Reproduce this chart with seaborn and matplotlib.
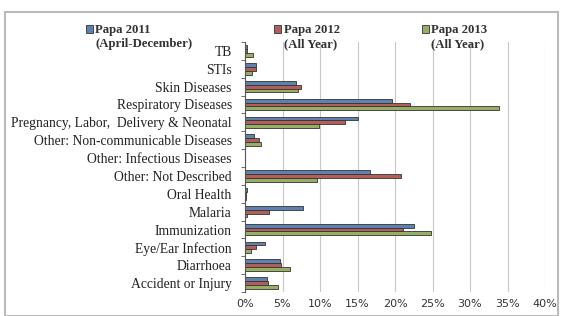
import numpy as np
import pandas as pd
import matplotlib
matplotlib.use('Agg')
import matplotlib.pyplot as plt
from matplotlib.patches import Rectangle
import seaborn as sns

# Categories (top to bottom) and share of visits per year (%)
categories = ['TB', 'STIs', 'Skin Diseases', 'Respiratory Diseases',
              'Pregnancy, Labor,  Delivery & Neonatal',
              'Other: Non-communicable Diseases', 'Other: Infectious Diseases',
              'Other: Not Described', 'Oral Health', 'Malaria', 'Immunization',
              'Eye/Ear Infection', 'Diarrhoea', 'Accident or Injury']
papa_2011 = [0.2, 1.5, 6.8, 19.6, 15.0, 1.2, 0.05, 16.6, 0.2, 7.7, 22.5, 2.6, 4.6, 2.9]
papa_2012 = [0.3, 1.5, 7.4, 22.0, 13.3, 1.8, 0.05, 20.8, 0.1, 3.2, 21.1, 1.4, 4.8, 3.0]
papa_2013 = [1.1, 0.9, 7.0, 33.8, 9.8, 2.1, 0.05, 9.6, 0.1, 0.2, 24.8, 0.8, 6.0, 4.4]
series_names = ['Papa 2011\n(April-December)', 'Papa 2012\n(All Year)', 'Papa 2013\n(All Year)']
colors = ['#4F81BD', '#C0504D', '#9BBB59']
x_ticks = [0, 5, 10, 15, 20, 25, 30, 35, 40]

df = pd.DataFrame({
    'Category': categories * 3,
    'Series': np.repeat(series_names, len(categories)),
    'Value': papa_2011 + papa_2012 + papa_2013,
})

sns.set_style('white')
plt.rcParams['font.family'] = ['Liberation Serif', 'DejaVu Serif']

fig = plt.figure(figsize=(5.65, 3.16), dpi=100)
ax = fig.add_axes([245 / 565, 1 - 292 / 316, 300 / 565, 250 / 316])

sns.barplot(data=df, y='Category', x='Value', hue='Series', order=categories,
            hue_order=series_names, palette=colors, orient='h', width=0.65,
            edgecolor='#333333', linewidth=0.6, ax=ax)

ax.set_xlim(0, 40)
ax.set_xticks(x_ticks)
ax.set_xticklabels([f'{t}%' for t in x_ticks], fontsize=8, family='DejaVu Sans',
                   color='#333333')
ax.set_yticks(range(len(categories)))
ax.set_yticklabels(categories, fontsize=9.8, color='#222222')
ax.set_yticks(np.arange(-0.5, len(categories)), minor=True)
ax.tick_params(axis='y', which='major', length=0, pad=9.5)
ax.tick_params(axis='y', which='minor', length=3, color='#555555', left=True)
ax.tick_params(axis='x', length=0, pad=5)
ax.set_xlabel('')
ax.set_ylabel('')
ax.grid(axis='x', color='#c8c8c8', linewidth=0.8)
ax.set_axisbelow(True)
for side in ['top', 'right', 'bottom']:
    ax.spines[side].set_visible(False)
ax.spines['left'].set_color('#555555')
ax.spines['left'].set_linewidth(0.8)

handles, labels = ax.get_legend_handles_labels()
ax.get_legend().remove()
leg = fig.legend(handles, labels, ncol=3, loc='upper left', bbox_to_anchor=(0.143, 0.94),
                 frameon=False, fontsize=9.2, handlelength=0.55, handleheight=0.55,
                 handletextpad=0.2, columnspacing=6.4, borderaxespad=0)
for txt in leg.get_texts():
    txt.set_fontweight('bold')
    txt.set_color('#333333')
    txt.set_multialignment('left')
# put the colour squares next to the first line of each label
for h in leg.legend_handles:
    h.set_y(h.get_y() + 5.5)

# picture frame around the chart
fig.patches.append(Rectangle((5 / 565, 0), 553 / 565, 1 - 12 / 316, transform=fig.transFigure,
                             fill=False, edgecolor='#bbbbbb', linewidth=1.5))

fig.savefig('out.png', dpi=100)
